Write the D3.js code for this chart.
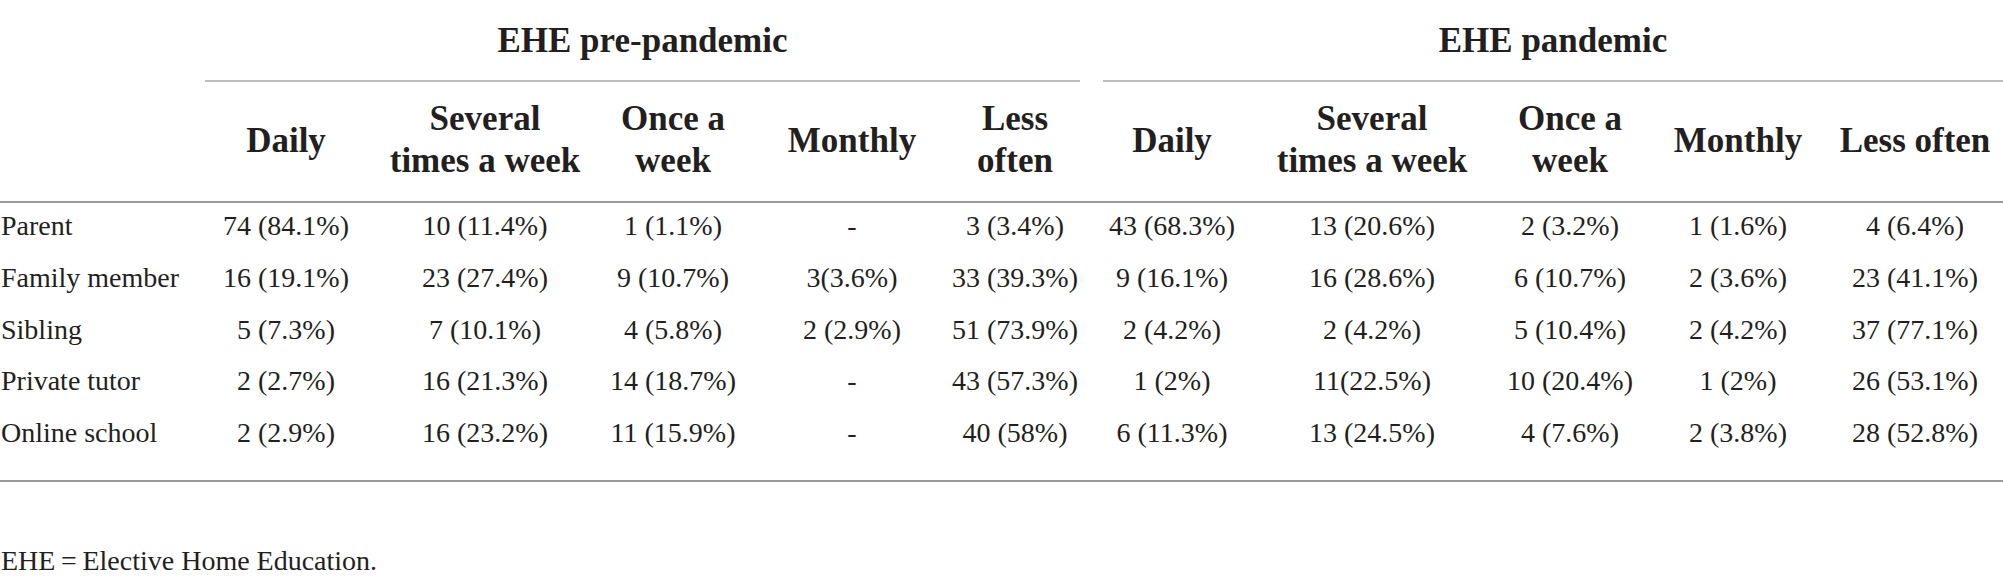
<!DOCTYPE html>
<html>
<head>
<meta charset="utf-8">
<script src="https://cdn.jsdelivr.net/npm/d3@7"></script>
<style>
  html, body { margin: 0; padding: 0; background: #fff; }
  svg { display: block; }
  text { font-family: "Liberation Serif", "DejaVu Serif", serif; fill: #231f20; }
</style>
</head>
<body>
<svg id="chart" width="2003" height="583"></svg>
<script>
// table content
var groups = ["EHE pre-pandemic", "EHE pandemic"];
var preHeaders = [["Daily"], ["Several", "times a week"], ["Once a", "week"], ["Monthly"], ["Less", "often"]];
var panHeaders = [["Daily"], ["Several", "times a week"], ["Once a", "week"], ["Monthly"], ["Less often"]];
var rowLabels = ["Parent", "Family member", "Sibling", "Private tutor", "Online school"];

var preValues = [
	["74 (84.1%)", "10 (11.4%)", "1 (1.1%)", "-", "3 (3.4%)"],
	["16 (19.1%)", "23 (27.4%)", "9 (10.7%)", "3(3.6%)", "33 (39.3%)"],
	["5 (7.3%)", "7 (10.1%)", "4 (5.8%)", "2 (2.9%)", "51 (73.9%)"],
	["2 (2.7%)", "16 (21.3%)", "14 (18.7%)", "-", "43 (57.3%)"],
	["2 (2.9%)", "16 (23.2%)", "11 (15.9%)", "-", "40 (58%)"]
];
var panValues = [
	["43 (68.3%)", "13 (20.6%)", "2 (3.2%)", "1 (1.6%)", "4 (6.4%)"],
	["9 (16.1%)", "16 (28.6%)", "6 (10.7%)", "2 (3.6%)", "23 (41.1%)"],
	["2 (4.2%)", "2 (4.2%)", "5 (10.4%)", "2 (4.2%)", "37 (77.1%)"],
	["1 (2%)", "11(22.5%)", "10 (20.4%)", "1 (2%)", "26 (53.1%)"],
	["6 (11.3%)", "13 (24.5%)", "4 (7.6%)", "2 (3.8%)", "28 (52.8%)"]
];
var footnote = "EHE\u2009=\u2009Elective Home Education.";

// layout
var layout = {
	width: 2003,
	titleY: 52,
	groupLineY: 81,
	headLine1: 130, headLine2: 172, headSingle: 152,
	headRuleY: 202,
	firstRow: 235, lastRow: 442,
	bottomRuleY: 481,
	footY: 570
};
var colKeys = d3.range(10);
var colCenters = [286, 485, 673, 852, 1015, 1172, 1372, 1570, 1738, 1915];
var groupSpans = [[205, 1080], [1103, 2003]];

var svg = d3.select("#chart");

var xScale = d3.scaleOrdinal().domain(colKeys).range(colCenters);
var yScale = d3.scalePoint().domain(rowLabels).range([layout.firstRow, layout.lastRow]);

// group titles
svg.append("g").attr("id", "group_titles")
	.selectAll("text")
	.data(groups)
	.enter().append("text")
	.attr("x", function(d, i) { return (groupSpans[i][0] + groupSpans[i][1]) / 2; })
	.attr("y", layout.titleY)
	.attr("text-anchor", "middle")
	.attr("font-size", 35)
	.attr("font-weight", "bold")
	.text(function(d) { return d; });

// group rules
svg.append("g").attr("id", "group_lines")
	.selectAll("line")
	.data(groupSpans)
	.enter().append("line")
	.attr("x1", function(d) { return d[0]; })
	.attr("x2", function(d) { return d[1]; })
	.attr("y1", layout.groupLineY)
	.attr("y2", layout.groupLineY)
	.attr("stroke", "#bdbdbd")
	.attr("stroke-width", 2);

// column headers
var headers = preHeaders.concat(panHeaders);
var heads = svg.append("g").attr("id", "col_heads")
	.selectAll("text")
	.data(headers)
	.enter().append("text")
	.attr("text-anchor", "middle")
	.attr("font-size", 35)
	.attr("font-weight", "bold");

heads.each(function(d, i) {
	var t = d3.select(this);
	d.forEach(function(line, j) {
		var y = d.length == 1 ? layout.headSingle : (j == 0 ? layout.headLine1 : layout.headLine2);
		t.append("tspan")
			.attr("x", xScale(i))
			.attr("y", y)
			.text(line);
	});
});

// horizontal rules
svg.append("g").attr("id", "rules")
	.selectAll("line")
	.data([layout.headRuleY, layout.bottomRuleY])
	.enter().append("line")
	.attr("x1", 0)
	.attr("x2", layout.width)
	.attr("y1", function(d) { return d; })
	.attr("y2", function(d) { return d; })
	.attr("stroke", "#9a9a9a")
	.attr("stroke-width", 2);

// row labels
svg.append("g").attr("id", "row_labels")
	.selectAll("text")
	.data(rowLabels)
	.enter().append("text")
	.attr("x", 1)
	.attr("y", function(d) { return yScale(d); })
	.attr("font-size", 28)
	.text(function(d) { return d; });

// cells
var cells = [];
rowLabels.forEach(function(r, i) {
	preValues[i].concat(panValues[i]).forEach(function(v, j) {
		cells.push({row: r, col: j, value: v});
	});
});

svg.append("g").attr("id", "cells")
	.selectAll("text")
	.data(cells)
	.enter().append("text")
	.attr("x", function(d) { return xScale(d.col); })
	.attr("y", function(d) { return yScale(d.row); })
	.attr("text-anchor", "middle")
	.attr("font-size", 28)
	.text(function(d) { return d.value; });

// footnote
svg.append("text")
	.attr("x", 1)
	.attr("y", layout.footY)
	.attr("font-size", 28)
	.text(footnote);
</script>
</body>
</html>
